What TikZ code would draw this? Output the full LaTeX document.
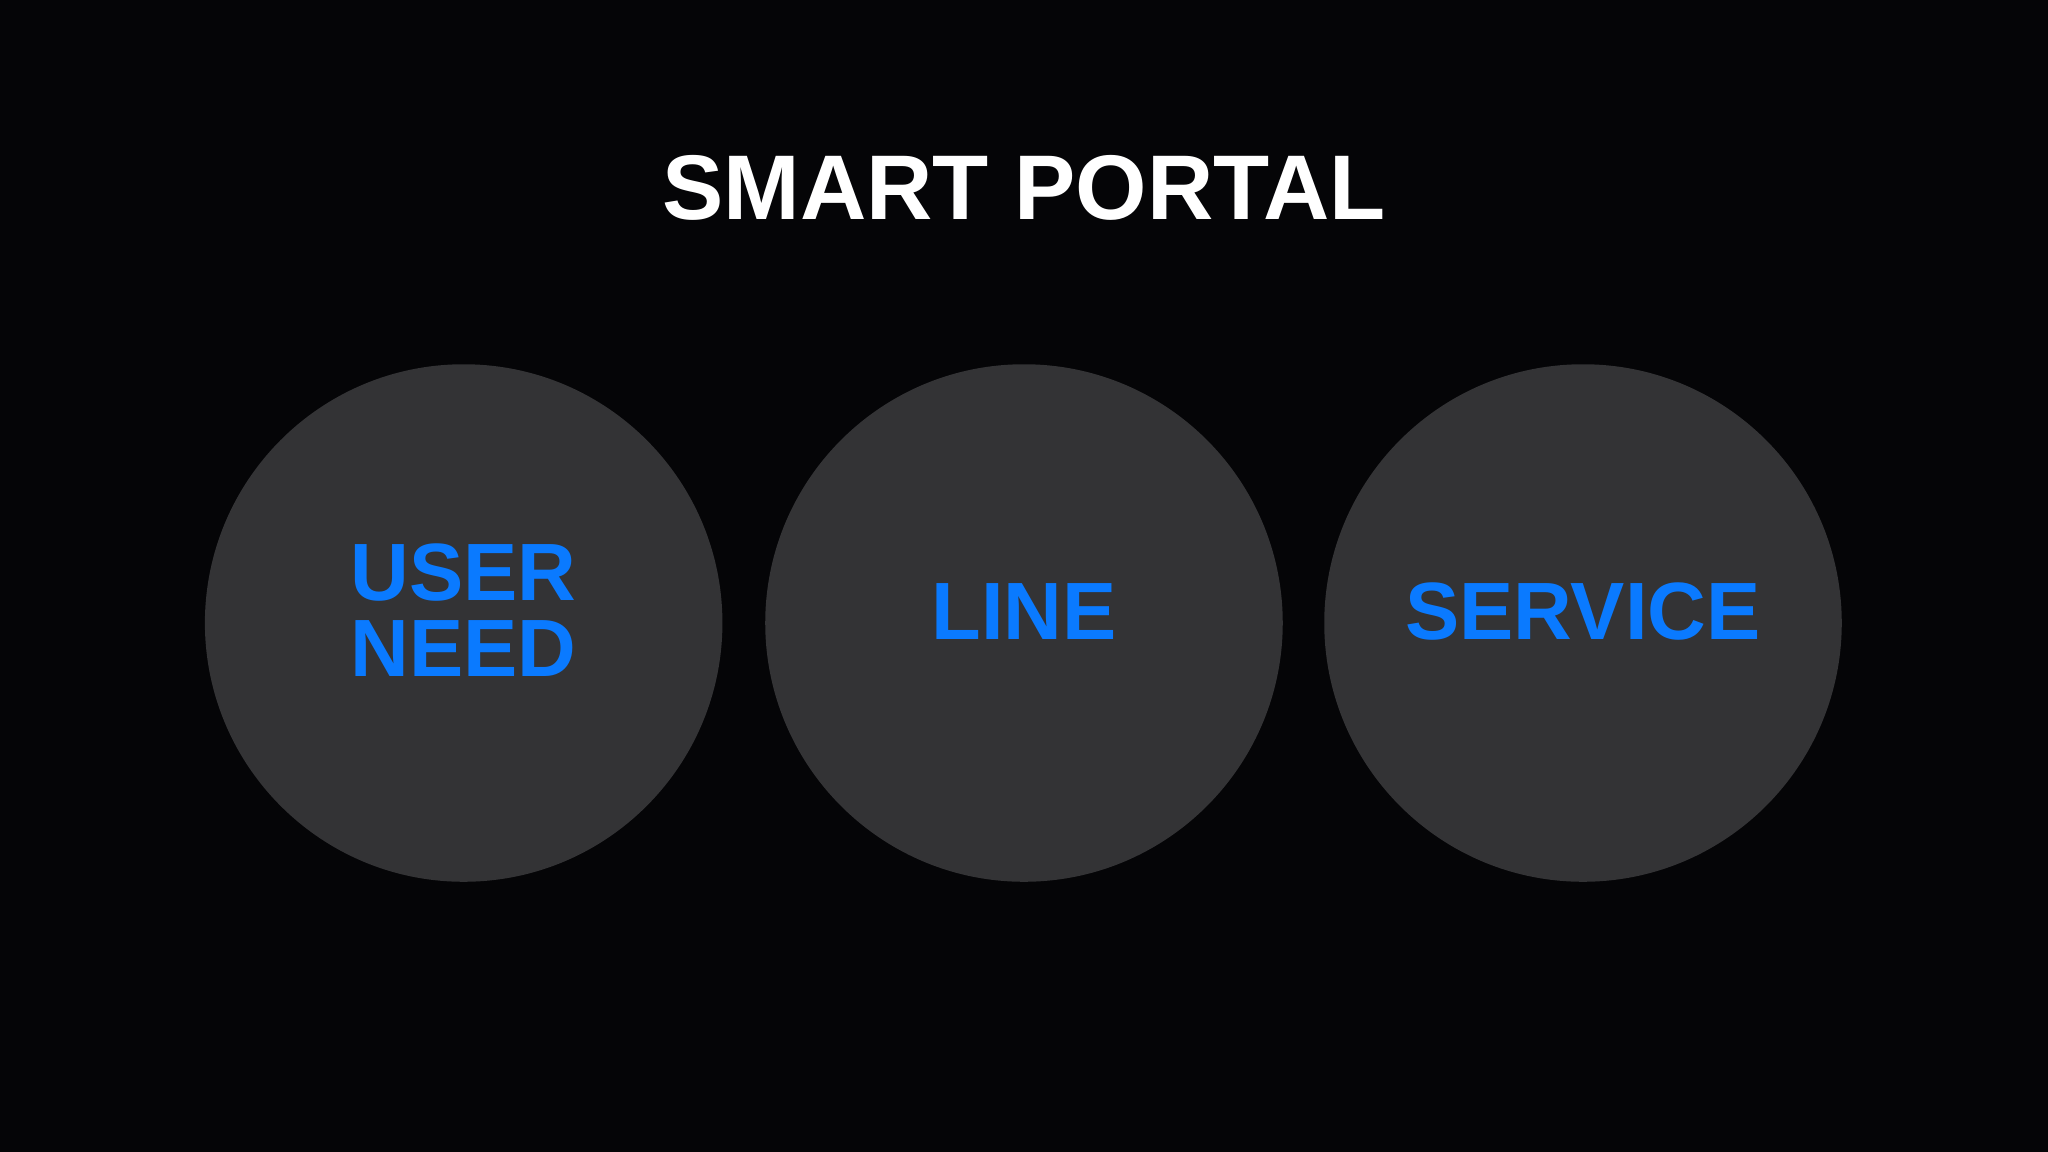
\documentclass[tikz,border=0pt]{standalone}
\usepackage{fontspec}
\setmainfont{Liberation Sans}
\definecolor{bg}{HTML}{050507}
\definecolor{disc}{HTML}{333335}
\definecolor{blu}{HTML}{0A7AFF}
\begin{document}
\begin{tikzpicture}[x=0.01cm,y=-0.01cm,
  disk/.style={circle,fill=disc,minimum size=3.96cm,inner sep=0pt},
  lbl/.style={text=blu,font=\fontsize{17.7pt}{16.6pt}\selectfont\bfseries,align=center,inner sep=0pt}]
\fill[bg] (0,0) rectangle (1568,882);
\node[text=white,font=\fontsize{20pt}{24pt}\selectfont\bfseries,anchor=base] (title) at (784,168) {SMART PORTAL};
\node[disk] (c1) at (355,477) {};
\node[disk] (c2) at (784,477) {};
\node[disk] (c3) at (1212,477) {};
\node[lbl] (t1) at (355,467) {USER\\NEED};
\node[lbl,anchor=base] (t2) at (784,490) {LINE};
\node[lbl,anchor=base] (t3) at (1212,490) {SERVICE};
\end{tikzpicture}
\end{document}
